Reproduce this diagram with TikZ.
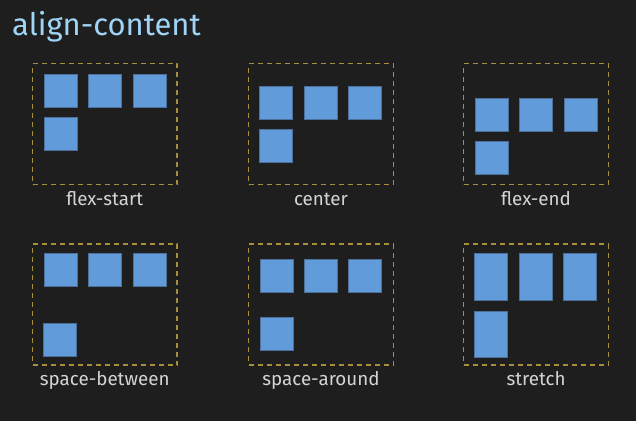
\documentclass[tikz,border=0pt]{standalone}
\usepackage{fontspec}
\setmainfont{Fira Sans}
\definecolor{bgc}{HTML}{1E1E1E}
\definecolor{sqfill}{HTML}{629BD9}
\definecolor{sqborder}{HTML}{4C709A}
\definecolor{dashc}{HTML}{A8903A}
\definecolor{lblc}{HTML}{D4D4D4}
\definecolor{titlec}{HTML}{9FD4F7}
\begin{document}
\begin{tikzpicture}[x=1pt,y=-1pt,
  sq/.style={draw=sqborder, fill=sqfill, line width=0.8pt, anchor=north west,
    minimum width=33pt, minimum height=33pt, inner sep=0pt, outer sep=0pt},
  tall/.style={sq, minimum height=46.5pt},
  cont/.style={draw=dashc, dash pattern=on 5pt off 4pt, line width=1.2pt,
    anchor=north west, inner sep=0pt, outer sep=0pt,
    minimum width=144.5pt, minimum height=121pt},
  lbl/.style={text=lblc, anchor=base, inner sep=0pt, font=\fontsize{18.8}{20}\selectfont},
  ttl/.style={text=titlec, anchor=base west, inner sep=0pt, font=\fontsize{31}{34}\selectfont}]
\fill[bgc] (0,0) rectangle (636,421);
\useasboundingbox (0,0) rectangle (636,421);
\node[ttl] (title) at (12,35) {align-content};
% containers
\node[cont] (c1) at (32.5,63.5) {};
\node[cont] (c2) at (248.7,63.5) {};
\node[cont] (c3) at (463.7,63.5) {};
\node[cont] (c4) at (32.5,244) {};
\node[cont] (c5) at (248.7,244) {};
\node[cont] (c6) at (463.7,244) {};
% flex-start
\node[sq] (a1) at (44,74) {};
\node[sq] (a2) at (88.5,74) {};
\node[sq] (a3) at (133,74) {};
\node[sq] (a4) at (44,117) {};
% center
\node[sq] (b1) at (259.5,86) {};
\node[sq] (b2) at (304,86) {};
\node[sq] (b3) at (348.5,86) {};
\node[sq] (b4) at (259.5,129) {};
% flex-end
\node[sq] (e1) at (475,98.5) {};
\node[sq] (e2) at (519.5,98.5) {};
\node[sq] (e3) at (564,98.5) {};
\node[sq] (e4) at (475,141.5) {};
% space-between
\node[sq] (s1) at (44,253.5) {};
\node[sq] (s2) at (88.5,253.5) {};
\node[sq] (s3) at (133,253.5) {};
\node[sq] (s4) at (43,323.5) {};
% space-around
\node[sq] (r1) at (260,259.5) {};
\node[sq] (r2) at (304.5,259.5) {};
\node[sq] (r3) at (348.5,259.5) {};
\node[sq] (r4) at (260,317.5) {};
% stretch
\node[tall] (t1) at (474.5,253.5) {};
\node[tall] (t2) at (519,253.5) {};
\node[tall] (t3) at (563.5,253.5) {};
\node[tall] (t4) at (474.5,311) {};
% labels
\node[lbl] (l1) at (104.7,205.5) {flex-start};
\node[lbl] (l2) at (321,205.5) {center};
\node[lbl] (l3) at (536,205.5) {flex-end};
\node[lbl] (l4) at (104.7,385) {space-between};
\node[lbl] (l5) at (321,385) {space-around};
\node[lbl] (l6) at (536,385) {stretch};
\end{tikzpicture}
\end{document}
